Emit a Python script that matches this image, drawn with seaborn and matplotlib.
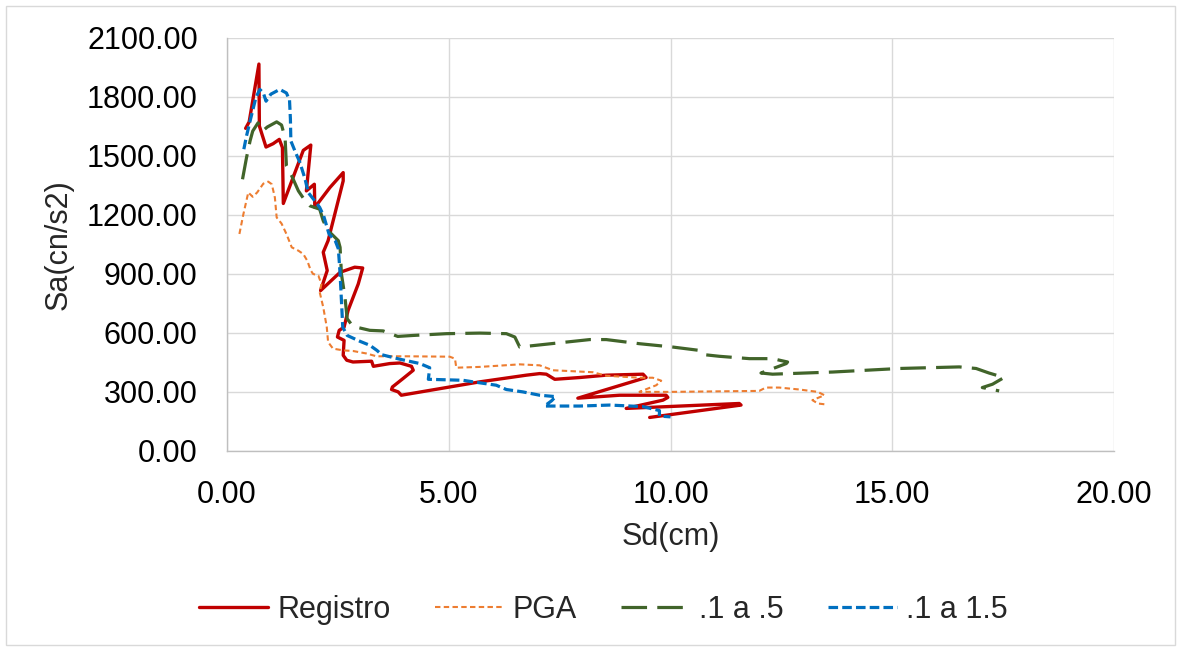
import matplotlib
matplotlib.use("Agg")
import matplotlib.pyplot as plt
import pandas as pd
import seaborn as sns
from matplotlib.patches import Rectangle
from matplotlib.ticker import FormatStrFormatter, MultipleLocator

# Capacity-demand curves: spectral displacement Sd (cm) vs spectral acceleration Sa
registro_sd = [0.42, 0.50, 0.72, 0.73, 0.88, 1.04, 1.18, 1.25, 1.27, 1.72, 1.89, 1.79,
               1.97, 1.98, 2.32, 2.62, 2.62, 2.28, 2.17, 2.26, 2.11, 2.55, 2.88, 3.06,
               2.96, 2.73, 2.64, 2.53, 2.49, 2.64, 2.62, 2.70, 2.84, 3.26, 3.30, 3.67,
               3.90, 4.16, 4.20, 3.97, 3.73, 3.71, 3.86, 3.93, 5.70, 6.75, 7.05, 7.20,
               7.39, 7.95, 8.55, 9.38, 9.45, 7.91, 8.85, 9.90, 9.94, 9.83, 9.00, 11.55,
               11.59, 9.53]
registro_sa = [1639, 1672, 1966, 1651, 1544, 1561, 1583, 1541, 1257, 1527, 1554, 1321,
               1355, 1237, 1338, 1414, 1372, 1068, 1009, 916, 814, 907, 933, 929,
               848, 713, 628, 612, 578, 561, 485, 460, 451, 455, 429, 443,
               446, 429, 409, 367, 324, 311, 299, 282, 350, 384, 392, 389,
               363, 372, 384, 389, 372, 267, 282, 282, 271, 257, 215, 240,
               232, 169]

pga_sd = [0.28, 0.37, 0.48, 0.58, 0.68, 0.82, 0.93, 1.01, 1.08, 1.12, 1.23, 1.34,
          1.46, 1.61, 1.72, 1.81, 1.89, 1.94, 2.06, 2.13, 2.09, 2.17, 2.25, 2.28,
          2.39, 2.62, 2.84, 3.15, 3.37, 4.05, 5.02, 5.14, 5.17, 5.70, 6.60, 7.05,
          7.35, 8.25, 8.55, 9.30, 9.60, 9.79, 9.68, 9.30, 9.98, 12.00, 12.15, 12.45,
          12.91, 13.32, 13.47, 13.20, 13.32, 13.51]
pga_sa = [1102, 1203, 1313, 1291, 1313, 1358, 1368, 1355, 1287, 1186, 1155, 1102,
          1034, 1017, 1000, 966, 916, 899, 890, 848, 806, 730, 628, 552,
          519, 510, 507, 494, 480, 480, 478, 468, 422, 426, 439, 434,
          409, 399, 381, 371, 371, 356, 333, 299, 299, 304, 321, 321,
          311, 299, 282, 257, 240, 235]

r05_sd = [0.35, 0.44, 0.52, 0.58, 0.70, 0.80, 0.91, 1.12, 1.23, 1.31, 1.34, 1.46,
          1.61, 1.76, 1.87, 2.09, 2.17, 2.28, 2.51, 2.55, 2.58, 2.66, 2.71, 2.84,
          3.07, 3.22, 3.52, 3.85, 4.20, 4.95, 5.70, 6.30, 6.49, 6.60, 7.43, 8.18,
          8.55, 9.30, 10.05, 10.65, 10.77, 11.10, 11.78, 12.30, 12.64, 12.61, 12.04, 12.30,
          13.66, 15.16, 16.51, 16.89, 17.18, 17.52, 17.26, 17.03, 17.41]
r05_sa = [1380, 1490, 1575, 1625, 1667, 1625, 1646, 1672, 1656, 1591, 1448, 1397,
          1321, 1271, 1245, 1228, 1169, 1119, 1068, 1034, 899, 780, 671, 632,
          620, 612, 609, 581, 586, 595, 598, 595, 578, 527, 547, 565,
          565, 544, 527, 510, 488, 480, 468, 468, 451, 443, 395, 389,
          400, 418, 426, 418, 395, 372, 338, 321, 304]

r15_sd = [0.38, 0.44, 0.53, 0.65, 0.74, 0.82, 0.88, 0.99, 1.19, 1.34, 1.41, 1.43,
          1.44, 1.55, 1.64, 1.76, 1.83, 1.96, 2.09, 2.18, 2.30, 2.44, 2.51, 2.53,
          2.55, 2.58, 2.61, 2.71, 3.00, 3.22, 3.38, 3.49, 3.90, 4.35, 4.57, 4.54,
          5.32, 5.55, 6.07, 6.30, 6.67, 7.05, 7.41, 7.32, 7.16, 7.95, 8.63, 9.38,
          9.75, 9.75, 10.00]
r15_sa = [1533, 1600, 1685, 1794, 1837, 1819, 1777, 1813, 1837, 1819, 1782, 1686,
          1575, 1514, 1468, 1382, 1313, 1276, 1237, 1194, 1102, 1068, 1027, 966,
          899, 764, 628, 586, 556, 536, 510, 488, 465, 443, 422, 363,
          358, 350, 333, 311, 299, 282, 275, 254, 227, 227, 232, 224,
          204, 176, 172]

series_names = ["Registro", "PGA", ".1 a .5", ".1 a 1.5"]

sns.set_style("white")
plt.rcParams['font.family'] = ['Liberation Sans', 'DejaVu Sans']

FS = 22

fig = plt.figure(figsize=(11.81, 6.51), dpi=100)
ax = fig.add_axes([0.1922, 0.3077, 0.7511, 0.6344])

styles = [
    (registro_sd, registro_sa, "#C00000", 2.4, "-"),
    (pga_sd, pga_sa, "#ED7D31", 1.5, (0, (2.6, 1.6))),
    (r05_sd, r05_sa, "#41642A", 2.3, (0, (8, 3.2))),
    (r15_sd, r15_sa, "#0070C0", 2.3, (0, (3, 1.3))),
]

handles = []
for name, (sd, sa, color, lw, ls) in zip(series_names, styles):
    df = pd.DataFrame({"Sd": sd, "Sa": sa})
    sns.lineplot(data=df, x="Sd", y="Sa", sort=False, estimator=None,
                 color=color, linewidth=lw, ax=ax, legend=False)
    line = ax.lines[-1]
    line.set_linestyle(ls)
    line.set_solid_joinstyle("round")
    handles.append(line)

ax.set_xlim(0, 20)
ax.set_ylim(0, 2100)
ax.xaxis.set_major_locator(MultipleLocator(5))
ax.yaxis.set_major_locator(MultipleLocator(300))
ax.xaxis.set_major_formatter(FormatStrFormatter("%.2f"))
ax.yaxis.set_major_formatter(FormatStrFormatter("%.2f"))
ax.grid(True, color="#D9D9D9", linewidth=1.0)
ax.set_axisbelow(True)
for side in ("top", "right"):
    ax.spines[side].set_visible(False)
for side in ("left", "bottom"):
    ax.spines[side].set_color("#BFBFBF")
    ax.spines[side].set_linewidth(1.0)

ax.tick_params(axis="both", length=0, labelsize=FS, colors="black")
ax.tick_params(axis="x", pad=21)
ax.tick_params(axis="y", pad=21)

ax.set_xlabel("Sd(cm)", fontsize=FS)
ax.set_ylabel("Sa(cn/s2)", fontsize=FS)
ax.xaxis.label.set_va("center")
ax.yaxis.label.set_va("center")
ax.xaxis.set_label_coords(0.5, -0.209)
ax.yaxis.set_label_coords(-0.19, 0.5)

fig.legend(handles, series_names, loc="center", bbox_to_anchor=(0.511, 0.063),
           ncol=4, frameon=False, fontsize=FS, handlelength=2.25,
           handletextpad=0.3, columnspacing=1.45)

fig.patches.append(Rectangle((6 / 1181, 6 / 651), 1169 / 1181, 639 / 651,
                             transform=fig.transFigure, fill=False,
                             edgecolor="#D9D9D9", linewidth=1.0))

fig.savefig("out.png", dpi=100)
